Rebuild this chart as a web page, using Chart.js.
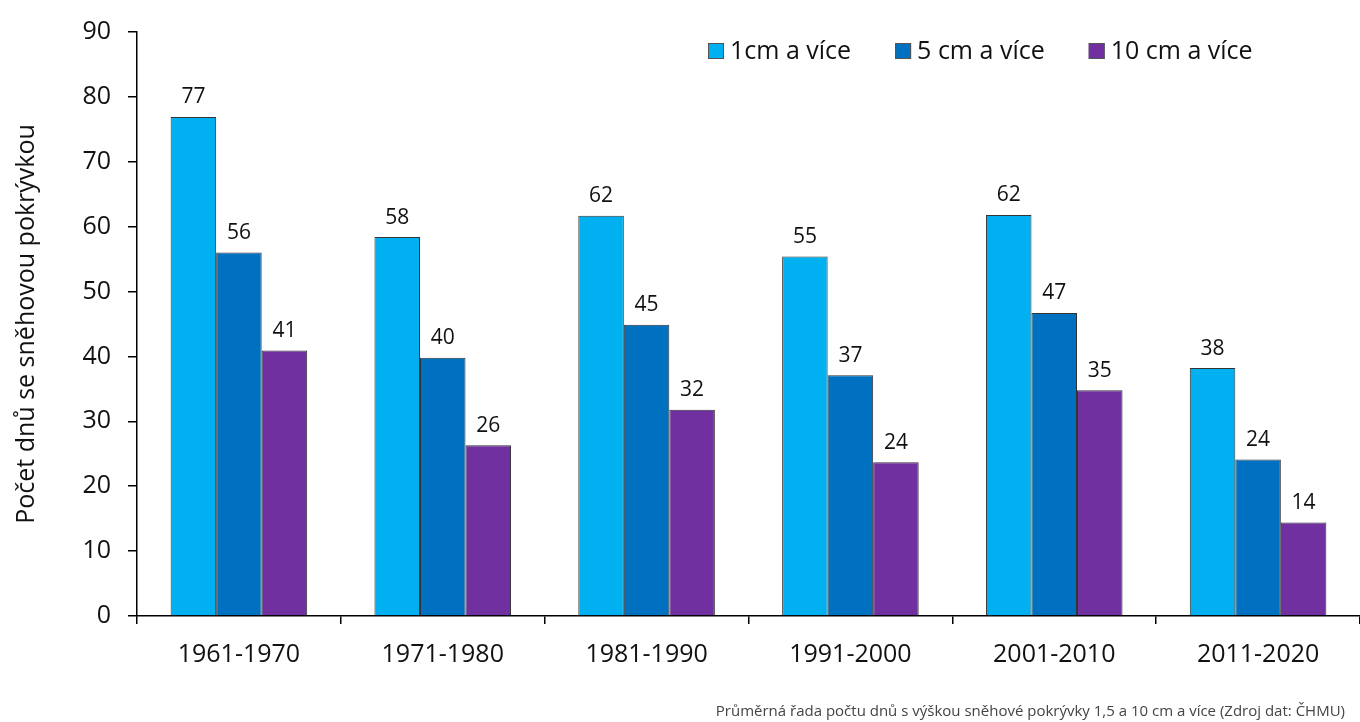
<!DOCTYPE html>
<html>
<head>
<meta charset="utf-8">
<script src="https://cdn.jsdelivr.net/npm/chart.js@4.4.0/dist/chart.umd.min.js"></script>
<style>
    html, body { margin: 0; padding: 0; background: #fff; }
    #wrap { position: relative; width: 1360px; height: 722px; }
</style>
</head>
<body>
<div id="wrap"><canvas id="snow-bar"></canvas></div>
<script>
const decades = ["1961-1970", "1971-1980", "1981-1990", "1991-2000", "2001-2010", "2011-2020"];
const days_1cm = [76.9, 58.4, 61.7, 55.4, 61.8, 38.2];
const days_5cm = [56.0, 39.8, 44.9, 37.1, 46.7, 24.1];
const days_10cm = [40.9, 26.3, 31.8, 23.7, 34.8, 14.4];
const series_names = ["1cm a více", "5 cm a více", "10 cm a více"];
const y_ticks = [0, 10, 20, 30, 40, 50, 60, 70, 80, 90];

const colours = ["#00B0F0", "#0070C0", "#7030A0"];
const font_family = "'Open Sans', sans-serif";

// value labels above bars
const bar_labels = {
    id: "barLabels",
    afterDatasetsDraw(chart) {
        const ctx = chart.ctx;
        ctx.save();
        ctx.font = "21px " + font_family;
        ctx.fillStyle = "#111";
        ctx.textAlign = "center";
        ctx.textBaseline = "bottom";
        chart.data.datasets.forEach((ds, i) => {
            chart.getDatasetMeta(i).data.forEach((bar, j) => {
                ctx.fillText(Math.round(ds.data[j]), bar.x, bar.y - 9);
            });
        });
        ctx.restore();
    }
};

// legend drawn inside the plot, top right
const inner_legend = {
    id: "innerLegend",
    afterDraw(chart) {
        const ctx = chart.ctx;
        ctx.save();
        ctx.font = "25px " + font_family;
        ctx.textBaseline = "middle";
        let x = 708;
        const y = 51;
        chart.data.datasets.forEach((ds) => {
            ctx.fillStyle = ds.backgroundColor;
            ctx.fillRect(x, y - 8, 16, 16);
            ctx.strokeStyle = "#555";
            ctx.lineWidth = 1;
            ctx.strokeRect(x + 0.5, y - 7.5, 15, 15);
            ctx.fillStyle = "#111";
            ctx.fillText(ds.label, x + 22, y + 1);
            x += 22 + ctx.measureText(ds.label).width + 44;
        });
        ctx.restore();
    }
};

// source note
const source_note = {
    id: "sourceNote",
    afterDraw(chart) {
        const ctx = chart.ctx;
        ctx.save();
        ctx.font = "15px " + font_family;
        ctx.fillStyle = "#444";
        ctx.textAlign = "right";
        ctx.textBaseline = "middle";
        ctx.fillText("Průměrná řada počtu dnů s výškou sněhové pokrývky 1,5 a 10 cm a více (Zdroj dat: ČHMU)", 1345, 712);
        ctx.restore();
    }
};

const bar_data = {
    labels: decades,
    datasets: [
        { label: series_names[0], data: days_1cm, backgroundColor: colours[0] },
        { label: series_names[1], data: days_5cm, backgroundColor: colours[1] },
        { label: series_names[2], data: days_10cm, backgroundColor: colours[2] }
    ].map(d => Object.assign(d, {
        borderColor: "#333",
        borderWidth: 1,
        categoryPercentage: 0.67,
        barPercentage: 1.0
    }))
};

const config_bar = {
    type: "bar",
    data: bar_data,
    options: {
        responsive: false,
        animation: false,
        layout: { padding: { top: 26, right: 0, bottom: 0, left: 0 } },
        plugins: {
            legend: { display: false },
            tooltip: { enabled: false }
        },
        scales: {
            x: {
                afterFit: (s) => { s.height = 106; },
                grid: { display: true, drawOnChartArea: false, tickLength: 8, color: "#000", lineWidth: 1.5, offset: true },
                border: { display: true, color: "#000", width: 1.5 },
                ticks: { color: "#111", font: { family: font_family, size: 25 }, padding: 16 }
            },
            y: {
                min: 0,
                max: 90,
                afterFit: (s) => { s.width = 137; },
                afterBuildTicks: (s) => { s.ticks = y_ticks.map(v => ({ value: v })); },
                grid: { display: true, drawOnChartArea: false, tickLength: 9, color: "#000", lineWidth: 1.5 },
                border: { display: true, color: "#000", width: 1.5 },
                ticks: { color: "#111", font: { family: font_family, size: 25 }, padding: 17 },
                title: {
                    display: true,
                    text: "Počet dnů se sněhovou pokrývkou",
                    color: "#111",
                    font: { family: font_family, size: 25 },
                    padding: { top: 12, bottom: 0 }
                }
            }
        }
    },
    plugins: [bar_labels, inner_legend, source_note]
};

const canvas = document.getElementById("snow-bar");
canvas.width = 1360;
canvas.height = 722;
new Chart(canvas.getContext("2d"), config_bar);
</script>
</body>
</html>
